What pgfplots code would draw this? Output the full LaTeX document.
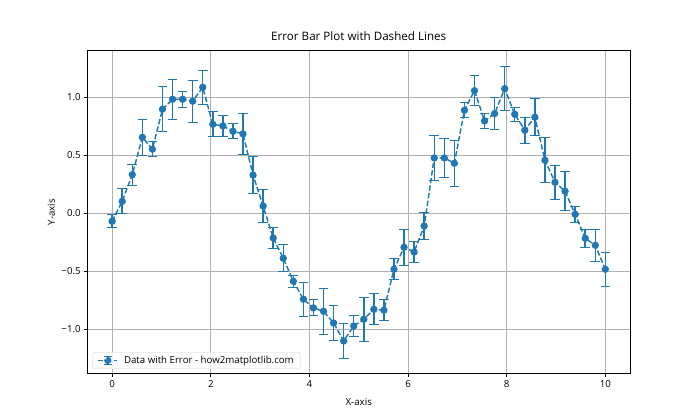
\documentclass[border=0pt]{standalone}
\usepackage{pgfplots}
\pgfplotsset{compat=1.18}
\usepackage{pgfplotstable}
\usepackage{fontspec}
\setmainfont{Open Sans}
\definecolor{tabblue}{HTML}{1F77B4}
\definecolor{gridgray}{HTML}{B0B0B0}
\definecolor{legedge}{HTML}{CCCCCC}

\pgfplotstableread{
x y err
0.0000 -0.069 0.056
0.2041 0.103 0.108
0.4082 0.333 0.090
0.6122 0.655 0.153
0.8163 0.552 0.065
1.0204 0.897 0.195
1.2245 0.983 0.171
1.4286 0.983 0.070
1.6327 0.966 0.182
1.8367 1.086 0.147
2.0408 0.767 0.109
2.2449 0.753 0.092
2.4490 0.707 0.065
2.6531 0.684 0.177
2.8571 0.329 0.162
3.0612 0.062 0.140
3.2653 -0.213 0.089
3.4694 -0.388 0.118
3.6735 -0.586 0.053
3.8776 -0.741 0.148
4.0816 -0.816 0.069
4.2857 -0.845 0.197
4.4898 -0.946 0.147
4.6939 -1.101 0.152
4.8980 -0.972 0.092
5.1020 -0.914 0.188
5.3061 -0.828 0.134
5.5102 -0.836 0.089
5.7143 -0.483 0.089
5.9184 -0.293 0.157
6.1224 -0.335 0.093
6.3265 -0.110 0.118
6.5306 0.477 0.191
6.7347 0.477 0.170
6.9388 0.431 0.197
7.1429 0.888 0.065
7.3469 1.057 0.129
7.5510 0.796 0.066
7.7551 0.859 0.135
7.9592 1.074 0.192
8.1633 0.853 0.062
8.3673 0.716 0.113
8.5714 0.828 0.158
8.7755 0.457 0.192
8.9796 0.267 0.149
9.1837 0.190 0.166
9.3878 -0.009 0.067
9.5918 -0.216 0.075
9.7959 -0.276 0.139
10.0000 -0.483 0.149
}\datatable

\begin{document}
\begin{tikzpicture}
\path[use as bounding box] (0,0) rectangle (10in,6in);
\begin{axis}[
  at={(1.25in,0.66in)}, anchor=south west,
  width=7.75in, height=4.62in, scale only axis,
  xmin=-0.5, xmax=10.5, ymin=-1.384, ymax=1.404,
  xtick={0,2,4,6,8,10}, xticklabels={0,2,4,6,8,10},
  ytick={-1,-0.5,0,0.5,1}, yticklabels={−1.0,−0.5,0.0,0.5,1.0},
  tick pos=left, tick align=outside, major tick length=3.5pt,
  tick style={black, line width=0.8pt},
  axis line style={line width=0.8pt},
  grid=major, grid style={gridgray, line width=0.8pt},
  ticklabel style={font=\fontsize{10}{12}\selectfont},
  label style={font=\fontsize{10}{12}\selectfont},
  xlabel style={yshift=-4pt},
  title style={font=\fontsize{12}{14}\selectfont, yshift=1pt},
  title={Error Bar Plot with Dashed Lines},
  xlabel={X-axis}, ylabel={Y-axis},
  legend style={at={(0,0)}, anchor=south west, xshift=5pt, yshift=5pt,
    draw=legedge, rounded corners=2pt, fill=white, fill opacity=0.8, text opacity=1,
    font=\fontsize{10}{12}\selectfont, inner ysep=2pt, inner xsep=5pt,
    column sep=4pt, cells={anchor=west}},
  legend image code/.code={
    \draw[tabblue, line width=1.5pt, dash pattern=on 5.55pt off 2.4pt] (0pt,0pt) -- (20pt,0pt);
    \draw[tabblue, line width=1.5pt, solid] (10pt,-4.5pt) -- (10pt,4.5pt);
    \draw[tabblue, line width=1pt, solid] (6pt,-4.5pt) -- (14pt,-4.5pt);
    \draw[tabblue, line width=1pt, solid] (6pt,4.5pt) -- (14pt,4.5pt);
    \fill[tabblue] (10pt,0pt) circle (3pt);
  },
]
\addplot[tabblue, line width=1.5pt, dash pattern=on 5.55pt off 2.4pt,
  mark=*, mark size=3pt, mark options={solid, fill=tabblue, draw=tabblue},
  error bars/.cd, y dir=both, y explicit,
  error bar style={solid, line width=1.5pt, tabblue},
  error mark options={solid, line width=1pt, tabblue, mark size=5pt, rotate=90}]
  table[x=x, y=y, y error=err] {\datatable};
\addlegendentry{Data with Error - how2matplotlib.com}
\end{axis}
\end{tikzpicture}
\end{document}
